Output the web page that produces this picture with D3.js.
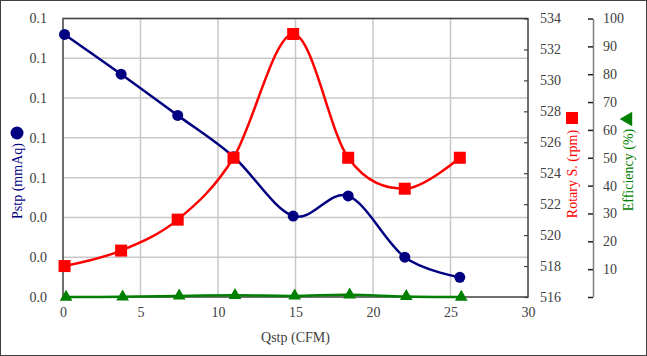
<!DOCTYPE html>
<html><head><meta charset="utf-8">
<script src="https://cdn.jsdelivr.net/npm/d3@7"></script>
<style>body{margin:0;background:#fff}svg{display:block}</style>
</head><body>
<svg id="c" width="647" height="356"></svg>
<script>
const qstp = [0.1, 3.75, 7.4, 11.0, 14.85, 18.4, 22.05, 25.6];
const pstp = [0.132, 0.112, 0.0913, 0.0705, 0.0407, 0.0508, 0.0200, 0.0099];
const rpm = [518, 519, 521, 525, 533, 525, 523, 525];
const eff = [0.0, 0.1, 0.4, 0.6, 0.4, 0.8, 0.2, 0.0];
const xTicks = [0, 5, 10, 15, 20, 25, 30];
const pTicks = [0, 0.02, 0.04, 0.06, 0.08, 0.10, 0.12, 0.14];
const rTicks = [516, 518, 520, 522, 524, 526, 528, 530, 532, 534];
const eTicks = [0, 10, 20, 30, 40, 50, 60, 70, 80, 90, 100];

const svg = d3.select('#c');
const font = '"Liberation Serif", "Times New Roman", serif';
const L = 63, R = 528, T = 18.5, B = 297;
const x = d3.scaleLinear().domain([0, 30]).range([L, R]);
const yP = d3.scaleLinear().domain([0, 0.14]).range([B, T]);
const yR = d3.scaleLinear().domain([516, 534]).range([B, T]);
const yE = d3.scaleLinear().domain([0, 100]).range([B, T]);

svg.append('rect').attr('x', 0.5).attr('y', 0.5).attr('width', 646).attr('height', 355)
  .attr('fill', '#fff').attr('stroke', '#404040').attr('stroke-width', 1);

// grid
const g = svg.append('g');
g.selectAll('.hg').data(pTicks.slice(1)).join('line')
  .attr('x1', L).attr('x2', R).attr('y1', d => yP(d)).attr('y2', d => yP(d))
  .attr('stroke', '#c8c8c8').attr('stroke-width', 1.5);
g.selectAll('.vg').data(xTicks.slice(1, -1)).join('line')
  .attr('y1', T).attr('y2', B).attr('x1', d => x(d)).attr('x2', d => x(d))
  .attr('stroke', '#c8c8c8').attr('stroke-width', 1.5);

// frame
svg.append('rect').attr('x', L).attr('y', T).attr('width', R - L).attr('height', B - T)
  .attr('fill', 'none').attr('stroke', '#404040').attr('stroke-width', 1.5);

// left axis
const axL = svg.append('g').attr('transform', `translate(${L},0)`)
  .call(d3.axisLeft(yP).tickValues(pTicks).tickFormat(d3.format('.1f')).tickSize(0).tickPadding(16));
// bottom axis
const axB = svg.append('g').attr('transform', `translate(0,${B})`)
  .call(d3.axisBottom(x).tickValues(xTicks).tickSize(0).tickPadding(10));
// right rpm axis
const axR = svg.append('g').attr('transform', `translate(${R},0)`)
  .call(d3.axisRight(yR).tickValues(rTicks).tickSizeInner(-4).tickSizeOuter(0).tickPadding(12));
// efficiency axis
const axE = svg.append('g').attr('transform', `translate(593,0)`)
  .call(d3.axisRight(yE).tickValues(eTicks).tickFormat(d => d === 0 ? '' : d).tickSizeInner(-5).tickSizeOuter(0).tickPadding(10));
axE.select('.domain').attr('stroke', '#808080').attr('stroke-width', 1.5);
axE.selectAll('.tick line').attr('stroke', '#202020').attr('stroke-width', 1.5);
[axL, axB, axR].forEach(a => a.select('.domain').remove());
axR.selectAll('.tick line').attr('stroke', '#404040').attr('stroke-width', 1.2);
[axL, axB, axR, axE].forEach(a => a.selectAll('text').attr('font-family', font).attr('font-size', 14).attr('fill', '#404040'));

// lines
const line = (ys, arr) => d3.line().x((d, i) => x(qstp[i])).y((d, i) => ys(arr[i])).curve(d3.curveCardinal.tension(0));
svg.append('path').datum(eff).attr('d', line(yE, eff)).attr('fill', 'none').attr('stroke', '#008000').attr('stroke-width', 2.5);
svg.append('path').datum(rpm).attr('d', line(yR, rpm)).attr('fill', 'none').attr('stroke', '#ff0000').attr('stroke-width', 2.5);
svg.append('path').datum(pstp).attr('d', line(yP, pstp)).attr('fill', 'none').attr('stroke', '#000080').attr('stroke-width', 2.5);

// markers
svg.selectAll('.pm').data(pstp).join('circle')
  .attr('cx', (d, i) => x(qstp[i])).attr('cy', d => yP(d)).attr('r', 5.5).attr('fill', '#000080');
svg.selectAll('.rm').data(rpm).join('rect')
  .attr('x', (d, i) => x(qstp[i]) - 6).attr('y', d => yR(d) - 6).attr('width', 12).attr('height', 12).attr('fill', '#ff0000');
const tri = d3.symbol().type(d3.symbolTriangle).size(70);
svg.selectAll('.em').data(eff).join('path')
  .attr('d', tri).attr('transform', (d, i) => `translate(${x(qstp[i]) + 1.5},${yE(d)})`).attr('fill', '#008000');

// axis titles
svg.append('text').attr('x', x(15)).attr('y', 342).attr('text-anchor', 'middle')
  .attr('font-family', font).attr('font-size', 14).attr('fill', '#404040').text('Qstp (CFM)');
svg.append('text').attr('transform', 'translate(22,181) rotate(-90)').attr('text-anchor', 'middle')
  .attr('font-family', font).attr('font-size', 14).attr('fill', '#000080').text('Pstp (mmAq)');
svg.append('circle').attr('cx', 17).attr('cy', 133).attr('r', 6.5).attr('fill', '#000080');

svg.append('text').attr('transform', 'translate(577,174) rotate(-90)').attr('text-anchor', 'middle')
  .attr('font-family', font).attr('font-size', 14).attr('fill', '#ff0000').text('Rotary S. (rpm)');
svg.append('rect').attr('x', 566).attr('y', 112).attr('width', 12).attr('height', 12).attr('fill', '#ff0000');

svg.append('text').attr('transform', 'translate(633,170) rotate(-90)').attr('text-anchor', 'middle')
  .attr('font-family', font).attr('font-size', 14).attr('fill', '#008000').text('Efficiency (%)');
svg.append('path').attr('d', d3.symbol().type(d3.symbolTriangle).size(90))
  .attr('transform', 'translate(628,119) rotate(-90)').attr('fill', '#008000');
</script>
</body></html>
